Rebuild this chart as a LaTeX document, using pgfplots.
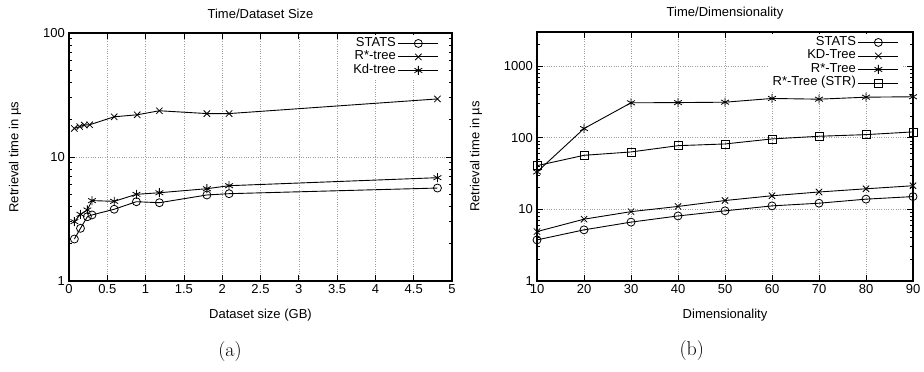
\documentclass[border=0pt]{standalone}
\usepackage{pgfplots}
\pgfplotsset{compat=1.18}
\usepackage{fontspec}
\newfontfamily\hv{Liberation Sans}
\pgfplotsset{
  gp/.style={
    scale only axis,
    axis line style={line width=1.4bp},
    every tick/.style={black,line width=0.8bp},
    major tick length=6bp, minor tick length=3bp,
    tick align=inside,
    grid=major,
    major grid style={dotted,gray!75,line width=0.6bp},
    /pgf/number format/assume math mode=true,
    font=\hv\fontsize{13bp}{15bp}\selectfont,
    tick label style={font=\hv\fontsize{13bp}{15bp}\selectfont},
    yticklabel style={inner ysep=0pt, inner xsep=1bp, xshift=-3bp},
    xticklabel style={inner ysep=1bp, yshift=-2bp},
    label style={font=\hv\fontsize{13bp}{15bp}\selectfont},
    title style={font=\hv\fontsize{13bp}{15bp}\selectfont, at={(axis description cs:0.5,1)}, anchor=center, yshift=13bp},
    xlabel style={at={(axis description cs:0.5,0)}, anchor=center, yshift=-34bp},
    legend plot pos=right,
    legend cell align=right,
    legend image code/.code={\draw[mark repeat=2,mark phase=2,##1] plot coordinates {(0bp,0bp)(20bp,0bp)(40bp,0bp)};},
    legend style={draw=none, fill=white, at={(rel axis cs:1,1)}, anchor=north east, inner xsep=3bp, inner ysep=1.5bp, yshift=-2bp,
      font=\hv\fontsize{13bp}{15bp}\selectfont, row sep=0pt,
      nodes={inner ysep=0pt, inner xsep=2bp, text height=9.5bp, text depth=4bp}},
    every axis plot/.append style={black, line width=0.9bp, mark options={solid, line width=0.8bp}},
  }
}
\begin{document}
\begin{tikzpicture}[x=1bp,y=1bp]
\useasboundingbox (0,0) rectangle (924,371);
\begin{axis}[ymode=log, gp,
  at={(69bp,90bp)}, anchor=south west,
  width=383bp, height=248bp,
  xmin=0, xmax=5, ymin=1, ymax=100,
  xtick={0,0.5,1,1.5,2,2.5,3,3.5,4,4.5,5},
  xticklabels={0,0.5,1,1.5,2,2.5,3,3.5,4,4.5,5},
  ytick={1,10,100}, yticklabels={1,10,100},
  minor ytick={2,3,4,5,6,7,8,9,20,30,40,50,60,70,80,90},
  title={Time/Dataset Size},
  xlabel={Dataset size (GB)},
  ylabel={Retrieval time in µs},
  ylabel style={at={(axis description cs:-0.141,0.5)}, anchor=center},
  legend style={xshift=-10bp},
]
\addplot[mark=o, mark size=4bp] coordinates {(0.07,2.18)(0.15,2.66)(0.24,3.30)(0.3,3.41)(0.59,3.79)(0.88,4.36)(1.18,4.28)(1.8,4.94)(2.09,5.06)(4.81,5.62)};
\addlegendentry{STATS}
\addplot[mark=x, mark size=4.5bp] coordinates {(0.07,17.0)(0.14,17.6)(0.2,18.1)(0.27,18.2)(0.59,21.1)(0.89,21.9)(1.18,23.6)(1.8,22.4)(2.09,22.4)(4.81,29.4)};
\addlegendentry{R*-tree}
\addplot[mark=asterisk, mark size=4.5bp] coordinates {(0.07,3.01)(0.15,3.45)(0.24,3.74)(0.3,4.45)(0.59,4.39)(0.88,5.0)(1.18,5.15)(1.8,5.55)(2.09,5.87)(4.81,6.81)};
\addlegendentry{Kd-tree}
\end{axis}
\begin{axis}[ymode=log, gp,
  at={(537bp,90bp)}, anchor=south west,
  width=376bp, height=249bp,
  xmin=10, xmax=90, ymin=1, ymax=3000,
  xtick={10,20,30,40,50,60,70,80,90},
  ytick={1,10,100,1000}, yticklabels={1,10,100,1000},
  minor ytick={2,3,4,5,6,7,8,9,20,30,40,50,60,70,80,90,200,300,400,500,600,700,800,900,2000,3000},
  title={Time/Dimensionality},
  xlabel={Dimensionality},
  ylabel={Retrieval time in µs},
  ylabel style={at={(axis description cs:-0.162,0.5)}, anchor=center},
  legend style={xshift=-11bp},
]
\addplot[mark=o, mark size=4bp] coordinates {(10,3.75)(20,5.18)(30,6.64)(40,8.1)(50,9.55)(60,11.2)(70,12.2)(80,13.9)(90,15.1)};
\addlegendentry{STATS}
\addplot[mark=x, mark size=4.5bp] coordinates {(10,4.9)(20,7.3)(30,9.3)(40,11.0)(50,13.3)(60,15.5)(70,17.5)(80,19.4)(90,21.4)};
\addlegendentry{KD-Tree}
\addplot[mark=asterisk, mark size=4.5bp] coordinates {(10,33.3)(20,134.6)(30,308)(40,310)(50,314)(60,354)(70,346)(80,369)(90,374)};
\addlegendentry{R*-Tree}
\addplot[mark=square, mark size=4bp] coordinates {(10,40.8)(20,56.9)(30,63.4)(40,77.6)(50,82)(60,96.4)(70,105)(80,110.7)(90,120.8)};
\addlegendentry{R*-Tree (STR)}
\end{axis}
\node[font=\fontsize{20bp}{24bp}\selectfont] at (230,19.5) {(a)};
\node[font=\fontsize{20bp}{24bp}\selectfont] at (691.7,20) {(b)};
\end{tikzpicture}
\end{document}
